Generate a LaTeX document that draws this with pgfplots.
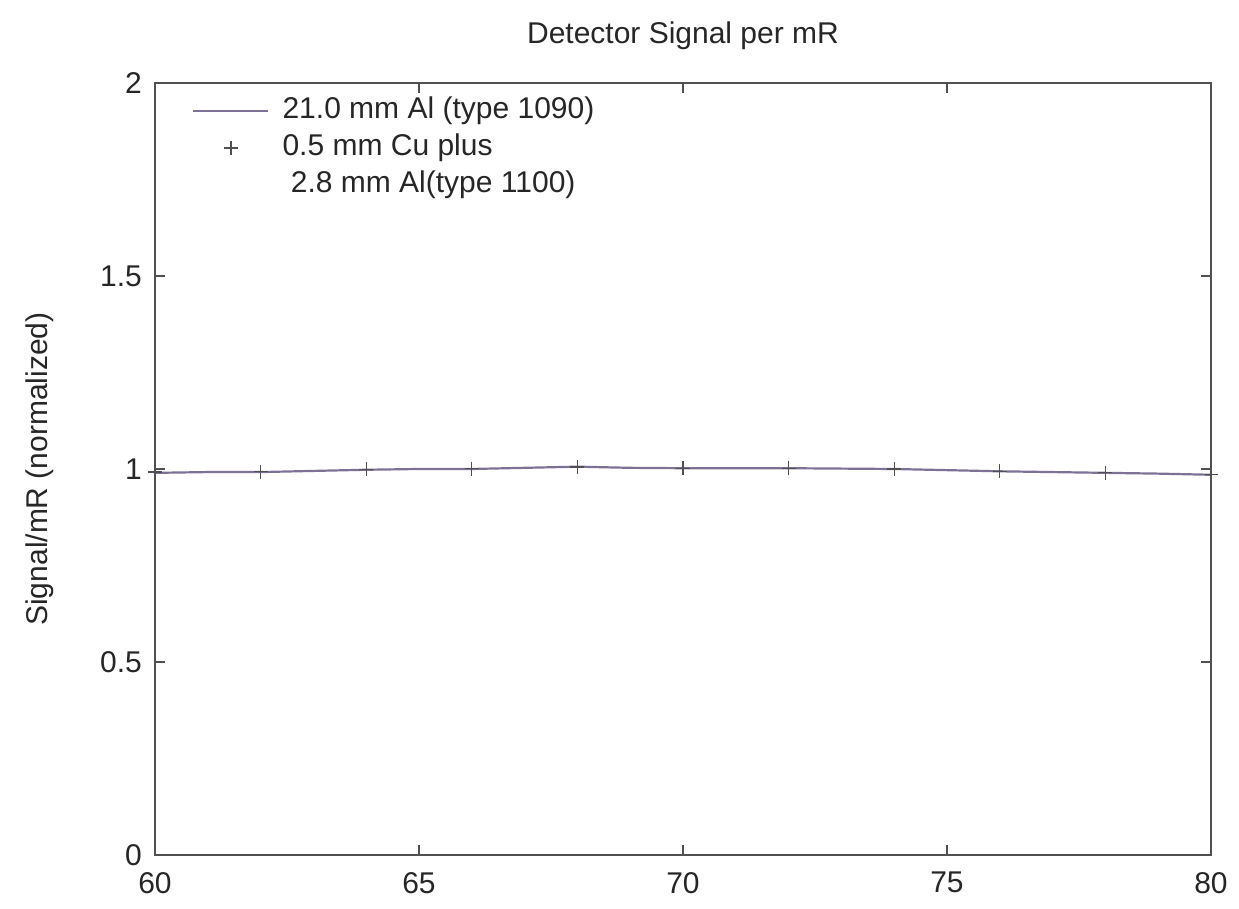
\documentclass[border=0pt]{standalone}
\usepackage{pgfplots}
\pgfplotsset{compat=1.18}
\usepackage{fontspec}
\setmainfont{Liberation Sans}
\definecolor{lineC}{HTML}{7D7196}
\definecolor{axC}{HTML}{505050}
\pgfplotsset{plusleg/.style={legend image code/.code={\draw[##1] plot coordinates {(18.75pt,0pt)};}}}
\begin{document}
\begin{tikzpicture}
\begin{axis}[
  scale only axis, width=528pt, height=386pt,
  xmin=60, xmax=80, ymin=0, ymax=2,
  xtick={60,65,70,75,80}, ytick={0,0.5,1,1.5,2},
  yticklabels={0,0.5,1,1.5,2},
  tick align=inside, tick pos=both, major tick length=5pt,
  axis line style={axC, line width=0.8pt}, tick style={axC, line width=0.6pt},
  font=\fontsize{15}{18}\selectfont,
  tick label style={font=\fontsize{15}{18}\selectfont, text=black!85},
  /pgf/number format/assume math mode=true,
  xticklabel style={yshift=-5pt},
  yticklabel style={xshift=-3pt},
  title={Detector Signal per mR},
  title style={font=\fontsize{15}{18}\selectfont, yshift=7pt, text=black!85},
  ylabel={Signal/mR (normalized)},
  ylabel style={font=\fontsize{15}{18}\selectfont, at={(rel axis cs:0,0.5)}, anchor=center, yshift=57.5pt, text=black!85},
  legend style={draw=none, fill=none, at={(0.035,0.983)}, anchor=north west,
    font=\fontsize{15}{18}\selectfont, text=black!85, row sep=4pt, inner sep=0pt,
    nodes={inner sep=0pt, text height=11pt, text depth=3.5pt},
    /tikz/every odd column/.append style={column sep=6.5pt}},
  legend cell align=left,
  legend image code/.code={\draw[#1] (0pt,0pt) -- (37.5pt,0pt);},
]
\addplot[lineC, line width=1.1pt] coordinates {
(60,0.990) (61,0.992) (62,0.992) (63,0.995) (64,0.998) (65,1.000) (66,1.000)
(67,1.003) (68,1.006) (69,1.003) (70,1.002) (71,1.002) (72,1.002) (73,1.001)
(74,1.000) (75,0.997) (76,0.994) (77,0.992) (78,0.990) (79,0.988) (80,0.985)};
\addlegendentry{21.0 mm Al (type 1090)}
\addplot[only marks, mark=+, mark size=3.5pt, axC, mark options={line width=0.6pt}, plusleg] coordinates {
(60,0.992) (62,0.993) (64,0.999) (66,1.001) (68,1.005) (70,1.002)
(72,1.002) (74,1.000) (76,0.994) (78,0.990) (80,0.986)};
\addlegendentry{0.5 mm Cu plus}
\addlegendimage{empty legend}
\addlegendentry{\ 2.8 mm Al(type 1100)}
\end{axis}
\path (-77.5pt,-27pt) rectangle (542pt,427.5pt);
\end{tikzpicture}
\end{document}
